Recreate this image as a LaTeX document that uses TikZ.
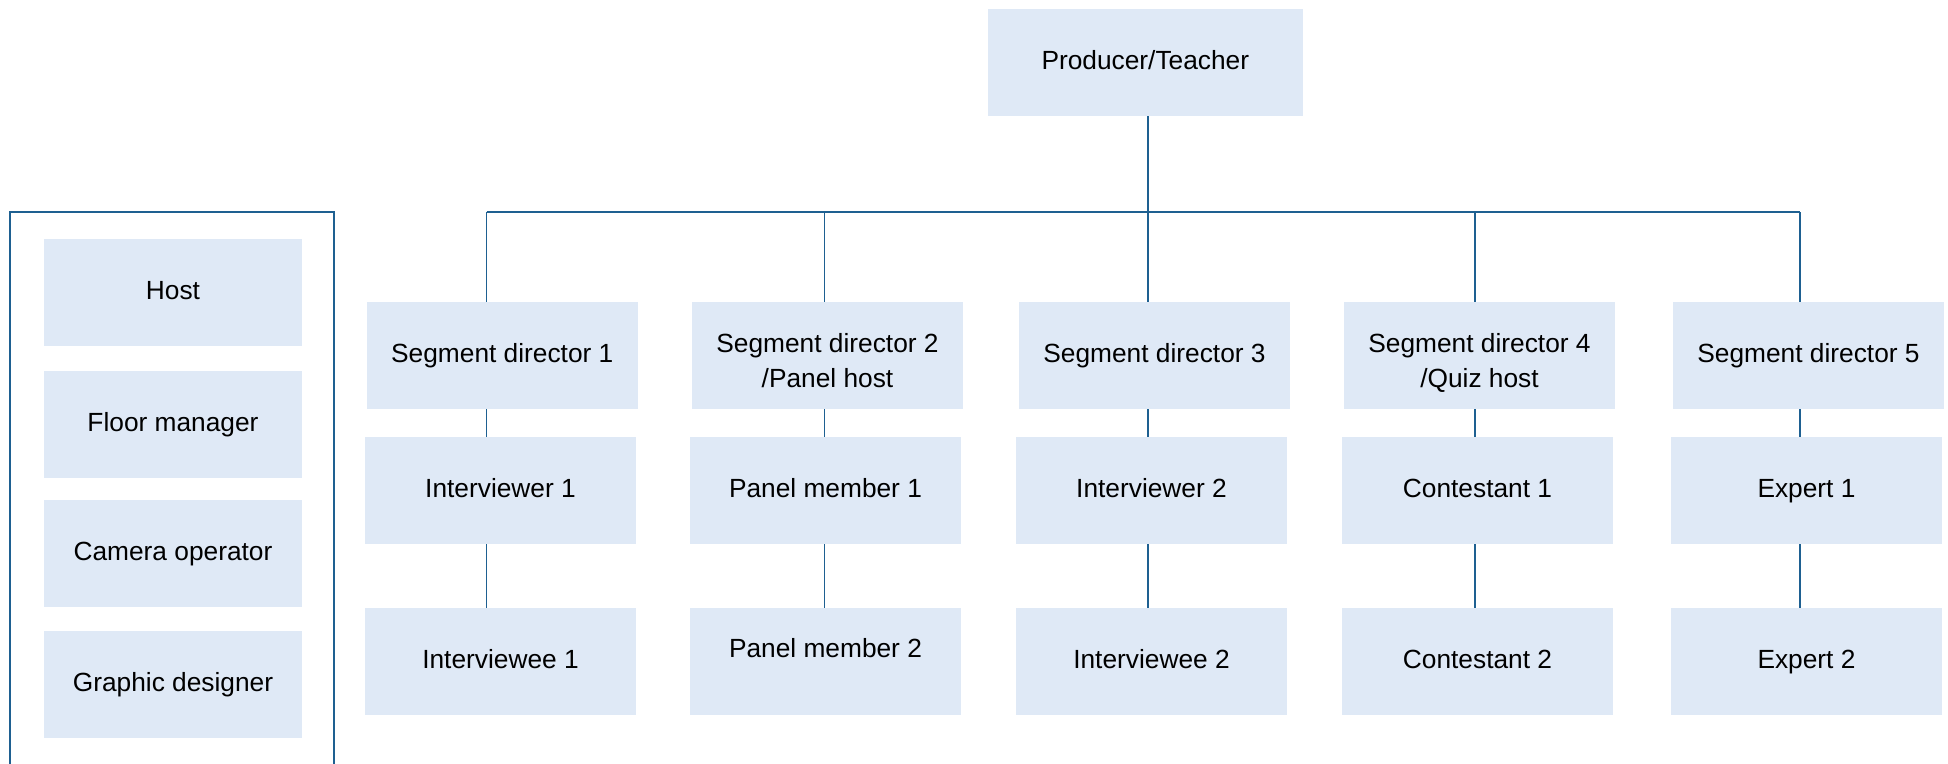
\documentclass[tikz,border=0pt]{standalone}
\usepackage{fontspec}
\setmainfont{Liberation Sans}
\definecolor{boxfill}{RGB}{223,233,246}
\definecolor{linecol}{RGB}{30,96,145}
\begin{document}
\begin{tikzpicture}[x=0.5pt,y=-0.5pt,
  every node/.style={font=\fontsize{13.15pt}{17.35pt}\selectfont},
  boxbase/.style={fill=boxfill, inner sep=0pt, text height=9.4pt, text depth=2pt, minimum height=53.35pt},
  sidebox/.style={boxbase, minimum width=129pt},
  rolebox/.style={boxbase, minimum width=135.5pt},
  topbox/.style={boxbase, minimum width=157.35pt},
  conn/.style={draw=linecol, line width=0.8pt},
  lbl/.style={anchor=base, align=center, inner sep=0pt}]
\useasboundingbox (0,0) rectangle (1948,764);

% top
\node[topbox] (prod) at (1145.3,62.3) {Producer/Teacher};

% side frame and boxes
\draw[conn] (10,770) -- (10,212.3) -- (334,212.3) -- (334,770);
\node[sidebox] (host) at (173,292.3) {Host};
\node[sidebox] (floor) at (173,424.3) {Floor manager};
\node[sidebox] (cam) at (173,553.3) {Camera operator};
\node[sidebox] (graph) at (173,684.3) {Graphic designer};

% segment directors
\node[rolebox] (sd1) at (502.3,355.3) {Segment director 1};
\node[rolebox] (sd2) at (827.5,355.3) {};
\node[lbl] (sd2t) at ([yshift=-16pt]sd2.center) {Segment director 2\\/Panel host};
\node[rolebox] (sd3) at (1154.5,355.3) {Segment director 3};
\node[rolebox] (sd4) at (1479.5,355.3) {};
\node[lbl] (sd4t) at ([yshift=-16pt]sd4.center) {Segment director 4\\/Quiz host};
\node[rolebox] (sd5) at (1808.5,355.3) {Segment director 5};

% second row
\node[rolebox] (a1) at (500.5,490.3) {Interviewer 1};
\node[rolebox] (a2) at (825.5,490.3) {Panel member 1};
\node[rolebox] (a3) at (1151.5,490.3) {Interviewer 2};
\node[rolebox] (a4) at (1477.5,490.3) {Contestant 1};
\node[rolebox] (a5) at (1806.5,490.3) {Expert 1};

% third row
\node[rolebox] (b1) at (500.5,661.3) {Interviewee 1};
\node[rolebox] (b2) at (825.5,661.3) {};
\node[lbl] (b2t) at ([yshift=2pt]b2.center) {Panel member 2};
\node[rolebox] (b3) at (1151.5,661.3) {Interviewee 2};
\node[rolebox] (b4) at (1477.5,661.3) {Contestant 2};
\node[rolebox] (b5) at (1806.5,661.3) {Expert 2};

% connectors
\coordinate (k1) at (486.5,212.3);
\coordinate (k2) at (824.5,212.3);
\coordinate (k3) at (1148,212.3);
\coordinate (k4) at (1475,212.3);
\coordinate (k5) at (1800,212.3);
\draw[conn] (k1) -- (k5);
\draw[conn] (prod.south -| k3) -- (k3);
\foreach \i in {1,...,5}{
  \draw[conn] (k\i) -- (k\i |- sd\i.north);
  \draw[conn] (k\i |- sd\i.south) -- (k\i |- a\i.north);
  \draw[conn] (k\i |- a\i.south) -- (k\i |- b\i.north);
}
\end{tikzpicture}
\end{document}
